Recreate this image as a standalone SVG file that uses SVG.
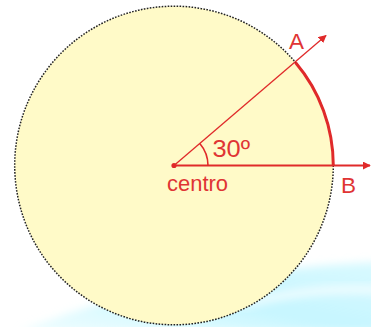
<svg xmlns="http://www.w3.org/2000/svg" width="371" height="327" viewBox="0 0 371 327">
<style>
.red{stroke:#e02a2a;fill:none}
.lbl{font-family:"Liberation Sans",Arial,sans-serif;fill:#e03434}
</style>
<defs>
<marker id="ah" viewBox="0 0 10 10" refX="9" refY="5" markerWidth="8" markerHeight="8" markerUnits="userSpaceOnUse" orient="auto">
<path d="M0,0 L10,5 L0,10 Z" fill="#e02a2a"/>
</marker>
<linearGradient id="sw" x1="0" y1="1" x2="1" y2="0">
<stop offset="0" stop-color="#d8fbff" stop-opacity="0.4"/>
<stop offset="0.5" stop-color="#c6f6ff"/>
<stop offset="1" stop-color="#cff8ff" stop-opacity="0.8"/>
</linearGradient>
<filter id="bl" x="-0.2" y="-0.5" width="1.4" height="2"><feGaussianBlur stdDeviation="4"/></filter>
</defs>
<g id="background">
<path d="M18,332 C90,302 210,270 380,262 L380,332 Z" fill="url(#sw)" filter="url(#bl)"/>
<path d="M240,305 C290,292 330,288 380,290" stroke="#ffffff" stroke-opacity="0.7" stroke-width="8" fill="none" filter="url(#bl)"/>
</g>
<g id="circle">
<circle cx="174" cy="165.5" r="159.3" fill="#fffac8" stroke="#222" stroke-width="1.5" stroke-dasharray="1.6 1.4"/>
</g>
<g id="connectors">
<line class="red" x1="174" y1="165.5" x2="370" y2="165.5" stroke-width="2" marker-end="url(#ah)"/>
<line class="red" x1="174" y1="165.5" x2="326" y2="35.5" stroke-width="1.3" marker-end="url(#ah)"/>
<path class="red" d="M295.5,62.5 A159.3,159.3 0 0 1 333.3,165.5" stroke-width="3"/>
<path class="red" d="M199.8,143.4 A34,34 0 0 1 208,165.5" stroke-width="1.6"/>
</g>
<g id="centro">
<circle cx="174" cy="165.5" r="2.6" fill="#e02a2a"/>
<text class="lbl" x="167" y="191" font-size="21.5" textLength="61" lengthAdjust="spacingAndGlyphs">centro</text>
</g>
<g id="angle">
<text class="lbl" x="212.5" y="157.3" font-size="23.5" textLength="37.5" lengthAdjust="spacingAndGlyphs">30º</text>
</g>
<g id="A">
<text class="lbl" x="289" y="49.3" font-size="22.5">A</text>
</g>
<g id="B">
<text class="lbl" x="341" y="192.7" font-size="22.5">B</text>
</g>
</svg>
